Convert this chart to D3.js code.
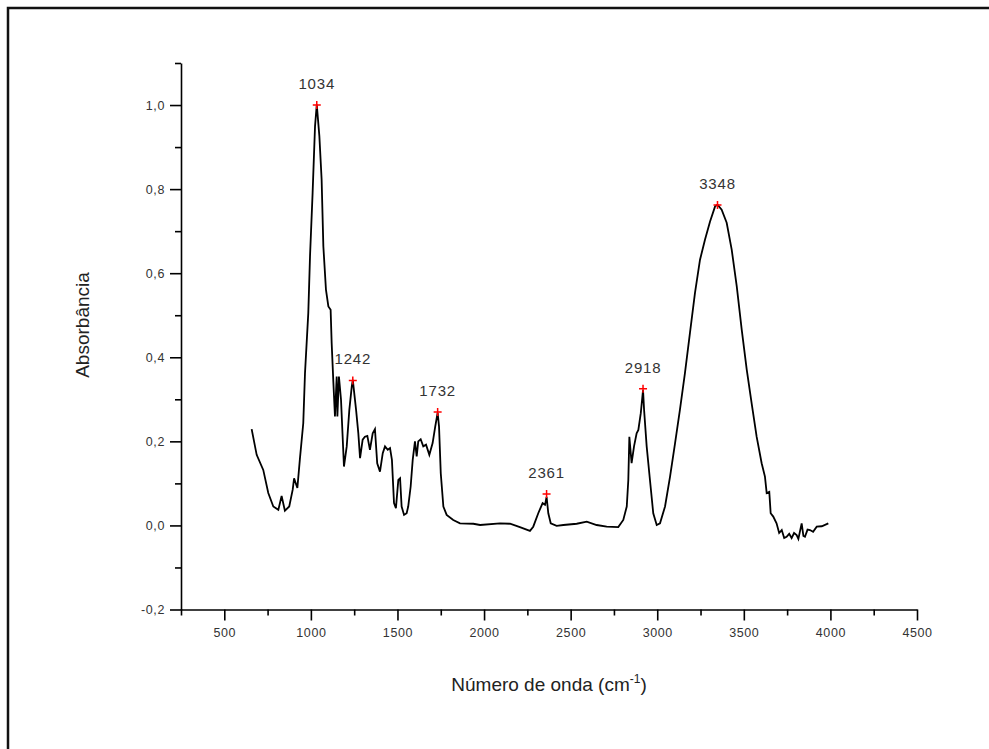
<!DOCTYPE html>
<html>
<head>
<meta charset="utf-8">
<script src="https://cdn.jsdelivr.net/npm/d3@7"></script>
<style>
  body { margin: 0; background: #fff; }
  svg { display: block; font-family: "Liberation Sans", Arial, sans-serif; }
</style>
</head>
<body>
<svg id="chart" width="989" height="749"></svg>
<script>
const waveNumber = [658, 687, 725, 754, 783, 812, 831, 850, 875, 895, 903, 922, 937, 956, 966, 985, 995, 1010, 1024, 1034,
  1049, 1062, 1072, 1087, 1101, 1114, 1120, 1130, 1139, 1149, 1153, 1162, 1174, 1191, 1207, 1222, 1236, 1242, 1261, 1274,
  1284, 1299, 1312, 1326, 1341, 1357, 1370, 1383, 1399, 1415, 1428, 1444, 1457, 1468, 1480, 1491, 1505, 1515, 1524, 1538,
  1553, 1562, 1576, 1588, 1601, 1611, 1620, 1634, 1649, 1665, 1684, 1703, 1718, 1732, 1740, 1750, 1765, 1784, 1822, 1861,
  1938, 1977, 2092, 2150, 2207, 2265, 2284, 2313, 2338, 2352, 2361, 2371, 2385, 2419, 2458, 2535, 2593, 2650, 2708, 2775,
  2804, 2824, 2833, 2839, 2852, 2866, 2881, 2891, 2905, 2918, 2924, 2939, 2958, 2977, 2997, 3016, 3045, 3074, 3103, 3131,
  3160, 3189, 3218, 3247, 3276, 3305, 3334, 3348, 3372, 3401, 3430, 3459, 3488, 3517, 3545, 3574, 3603, 3622, 3632, 3647,
  3655, 3670, 3689, 3704, 3719, 3733, 3747, 3762, 3776, 3790, 3805, 3815, 3834, 3844, 3853, 3868, 3882, 3900, 3921, 3950, 3988];
const absorbance = [0.229, 0.168, 0.132, 0.077, 0.045, 0.037, 0.070, 0.035, 0.045, 0.085, 0.112, 0.089, 0.160, 0.243, 0.362, 0.505, 0.640, 0.791, 0.950, 1.001,
  0.926, 0.823, 0.664, 0.561, 0.521, 0.513, 0.434, 0.339, 0.259, 0.354, 0.259, 0.354, 0.299, 0.140, 0.188, 0.275, 0.330, 0.346, 0.275, 0.219,
  0.160, 0.204, 0.211, 0.213, 0.180, 0.219, 0.229, 0.148, 0.128, 0.172, 0.188, 0.180, 0.184, 0.156, 0.053, 0.041, 0.108, 0.112, 0.045, 0.025,
  0.029, 0.045, 0.092, 0.156, 0.200, 0.164, 0.200, 0.205, 0.188, 0.192, 0.168, 0.196, 0.235, 0.268, 0.235, 0.124, 0.045, 0.025, 0.013, 0.005,
  0.004, 0.001, 0.005, 0.004, -0.004, -0.013, -0.003, 0.029, 0.053, 0.049, 0.068, 0.029, 0.005, -0.001, 0.001, 0.004, 0.009, 0.001, -0.003, -0.004,
  0.013, 0.045, 0.108, 0.211, 0.148, 0.188, 0.219, 0.227, 0.267, 0.322, 0.275, 0.188, 0.108, 0.029, 0.001, 0.005, 0.045, 0.116, 0.196, 0.275,
  0.362, 0.458, 0.553, 0.632, 0.680, 0.723, 0.759, 0.763, 0.751, 0.720, 0.656, 0.569, 0.465, 0.370, 0.291, 0.211, 0.148, 0.116, 0.077, 0.080,
  0.029, 0.021, 0.005, -0.018, -0.011, -0.030, -0.027, -0.020, -0.030, -0.018, -0.023, -0.032, 0.005, -0.025, -0.027, -0.010, -0.011, -0.015, -0.003, -0.002, 0.005];

// picos marcados
const peakX = [1034, 1242, 1732, 2361, 2918, 3348];
const peakY = [1.0, 0.345, 0.27, 0.075, 0.325, 0.762];

const xMajorTicks = [500, 1000, 1500, 2000, 2500, 3000, 3500, 4000, 4500];
const xMinorTicks = [250, 750, 1250, 1750, 2250, 2750, 3250, 3750, 4250];
const yMajorTicks = [-0.2, 0.0, 0.2, 0.4, 0.6, 0.8, 1.0];
const yMinorTicks = [-0.1, 0.1, 0.3, 0.5, 0.7, 0.9, 1.1];

const svg = d3.select('#chart');

// moldura da página (estilo Origin)
svg.append('path')
  .attr('d', 'M8,749 L8,8 L989,8')
  .attr('fill', 'none')
  .attr('stroke', '#111')
  .attr('stroke-width', 2.5);

const xScale = d3.scaleLinear().domain([250, 4500]).range([181, 917]);
const yScale = d3.scaleLinear().domain([-0.2, 1.1]).range([609.5, 63]);

const fmtY = d => d3.format('.1f')(d).replace('.', ',').replace('−', '-');

// eixo x
const gx = svg.append('g').attr('transform', 'translate(0,609.5)');
gx.call(d3.axisBottom(xScale).tickValues(xMajorTicks).tickSize(11).tickSizeOuter(0).tickPadding(8)
  .tickFormat(d3.format('d')));
gx.append('g').call(d3.axisBottom(xScale).tickValues(xMinorTicks).tickSize(6).tickFormat('').tickSizeOuter(0))
  .select('.domain').remove();

// eixo y
const gy = svg.append('g').attr('transform', 'translate(181,0)');
gy.call(d3.axisLeft(yScale).tickValues(yMajorTicks).tickSize(11).tickSizeOuter(0).tickPadding(5).tickFormat(fmtY));
gy.append('g').call(d3.axisLeft(yScale).tickValues(yMinorTicks).tickSize(6).tickFormat('').tickSizeOuter(0))
  .select('.domain').remove();

svg.selectAll('.domain, .tick line').attr('stroke', '#000').attr('stroke-width', 1.6);
svg.selectAll('.tick text').attr('font-size', 12.5).attr('fill', '#333')
  .attr('letter-spacing', 0.6)
  .attr('font-family', '"Liberation Sans", Arial, sans-serif');

// títulos dos eixos
svg.append('text')
  .attr('transform', 'translate(89,325) rotate(-90)')
  .attr('text-anchor', 'middle')
  .attr('font-size', 19)
  .attr('fill', '#222')
  .text('Absorbância');

const xt = svg.append('text')
  .attr('x', 549).attr('y', 691)
  .attr('text-anchor', 'middle')
  .attr('font-size', 19)
  .attr('fill', '#222');
xt.append('tspan').text('Número de onda (cm');
xt.append('tspan').attr('font-size', 12).attr('dy', -8).text('-1');
xt.append('tspan').attr('dy', 8).text(')');

// espectro
const line = d3.line()
  .x((d, i) => xScale(waveNumber[i]))
  .y(d => yScale(d));

svg.append('path')
  .datum(absorbance)
  .attr('fill', 'none')
  .attr('stroke', '#000')
  .attr('stroke-width', 1.8)
  .attr('stroke-linejoin', 'miter')
  .attr('d', line);

// marcadores dos picos
const peaks = svg.append('g');
peakX.forEach((p, i) => {
  const cx = xScale(p), cy = yScale(peakY[i]);
  peaks.append('path')
    .attr('d', `M${cx - 4},${cy} L${cx + 4},${cy} M${cx},${cy - 4} L${cx},${cy + 4}`)
    .attr('stroke', '#f00')
    .attr('stroke-width', 1.5);
  peaks.append('text')
    .attr('x', cx).attr('y', cy - 16)
    .attr('text-anchor', 'middle')
    .attr('font-size', 15)
    .attr('letter-spacing', 0.8)
    .attr('fill', '#333')
    .text(p);
});
</script>
</body>
</html>
